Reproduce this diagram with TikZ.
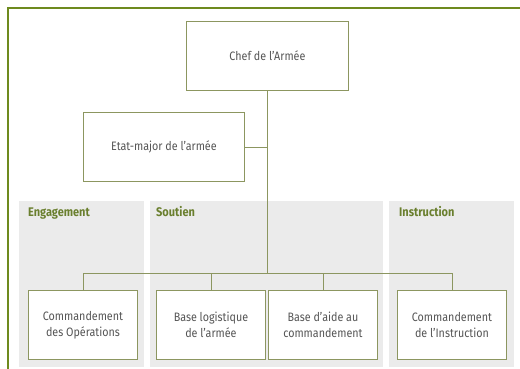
\documentclass[tikz,border=0pt]{standalone}
\usepackage{fontspec}
\setmainfont{Fira Sans}[FakeStretch=0.88]
\definecolor{frame}{HTML}{6E8A1E}
\definecolor{boxline}{HTML}{8C9660}
\definecolor{panel}{HTML}{EBEBEB}
\definecolor{labelgreen}{HTML}{6A7F2E}
\definecolor{txt}{HTML}{555555}
\begin{document}
\begin{tikzpicture}[x=1pt,y=-1pt,
  orgbox/.style={draw=boxline,line width=0.9pt,fill=white,text=txt,font=\fontsize{12.2}{16}\selectfont,align=center,anchor=north west,inner sep=0pt},
  panelbox/.style={fill=panel,draw=none,anchor=north west,inner sep=0pt},
  paneltitle/.style={text=labelgreen,font=\fontsize{12.5}{15}\selectfont\bfseries,anchor=base west,inner sep=0pt},
  conn/.style={draw=boxline,line width=0.9pt}]
\useasboundingbox (0,0) rectangle (520,369);
% frame
\draw[frame,line width=1.2pt] (8,369) -- (8,8) -- (520,8);
% panels
\node[panelbox,minimum width=125pt,minimum height=166pt] (pE) at (19,201) {};
\node[panelbox,minimum width=233pt,minimum height=166pt] (pS) at (150,201) {};
\node[panelbox,minimum width=125pt,minimum height=166pt] (pI) at (389,201) {};
\node[paneltitle] (tE) at (28,216.5) {Engagement};
\node[paneltitle] (tS) at (156,216.5) {Soutien};
\node[paneltitle] (tI) at (399,216.5) {Instruction};
% boxes
\node[orgbox,minimum width=162pt,minimum height=69pt] (chef) at (186,21) {Chef de l’Armée};
\node[orgbox,minimum width=161pt,minimum height=69pt] (etat) at (83,112) {Etat-major de l’armée};
\node[orgbox,minimum width=109pt,minimum height=69pt] (b1) at (28,290) {Commandement\\des Opérations};
\node[orgbox,minimum width=109pt,minimum height=69pt] (b2) at (156,290) {Base logistique\\de l’armée};
\node[orgbox,minimum width=109pt,minimum height=69pt] (b3) at (268,290) {Base d’aide au\\commandement};
\node[orgbox,minimum width=109pt,minimum height=69pt] (b4) at (397,290) {Commandement\\de l’Instruction};
% connectors
\coordinate (bus) at (267,273);
\coordinate (trunk) at (267,146);
\draw[conn] (chef.south -| bus) -- (bus);
\draw[conn] (etat.east) -- (etat.east -| trunk);
\draw[conn] (b1.north) |- (bus);
\draw[conn] (b4.north) |- (bus);
\draw[conn] (b2.north) -- (b2.north |- bus);
\draw[conn] (b3.north) -- (b3.north |- bus);
\end{tikzpicture}
\end{document}
